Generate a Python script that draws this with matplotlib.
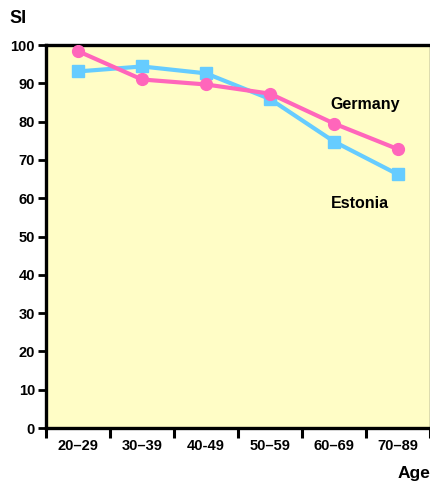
import matplotlib.pyplot as plt

ages = ['20–29', '30–39', '40-49', '50–59', '60–69', '70–89']
germany = [98.4, 91.0, 89.7, 87.3, 79.5, 72.8]
estonia = [93.1, 94.4, 92.6, 85.9, 74.8, 66.2]

plt.rcParams['font.family'] = ['Liberation Sans', 'DejaVu Sans']

fig = plt.figure(figsize=(4.31, 4.82), dpi=100)
ax = fig.add_axes([0.1067, 0.112, 0.891, 0.7946])
ax.set_facecolor('#fffdc6')

xs = [i + 0.5 for i in range(len(ages))]
ax.plot(xs, estonia, color='#66ccff', lw=3, marker='s', markersize=9, zorder=3)
ax.plot(xs, germany, color='#ff66bb', lw=3, marker='o', markersize=8.5, zorder=4)

ax.set_xlim(0, 6)
ax.set_ylim(0, 100)
ax.set_yticks(range(0, 101, 10))
ax.set_xticks(range(0, 7))
ax.set_xticklabels([])
ax.set_xticks(xs, minor=True)
ax.set_xticklabels(ages, minor=True)
ax.tick_params(axis='x', which='minor', length=0, pad=8, labelsize=10.5)
ax.tick_params(axis='x', which='major', length=7, width=2.2, direction='out')
ax.tick_params(axis='y', length=6, width=2, direction='out', labelsize=10.5, pad=2)
for lab in ax.get_xticklabels(minor=True) + ax.get_yticklabels():
    lab.set_fontweight('bold')

for s in ['left', 'bottom', 'top']:
    ax.spines[s].set_linewidth(2.4)
ax.spines['right'].set_linewidth(1.0)
ax.spines['right'].set_color('#555555')

ax.text(4.45, 84.6, 'Germany', fontsize=11.5, fontweight='bold', va='center')
ax.text(4.45, 58.6, 'Estonia', fontsize=11.5, fontweight='bold', va='center')
fig.text(0.023, 0.962, 'SI', fontsize=13, fontweight='bold', va='center')
fig.text(0.998, 0.018, 'Age', fontsize=12.5, fontweight='bold', ha='right', va='center')

fig.savefig('out.png', dpi=100)
